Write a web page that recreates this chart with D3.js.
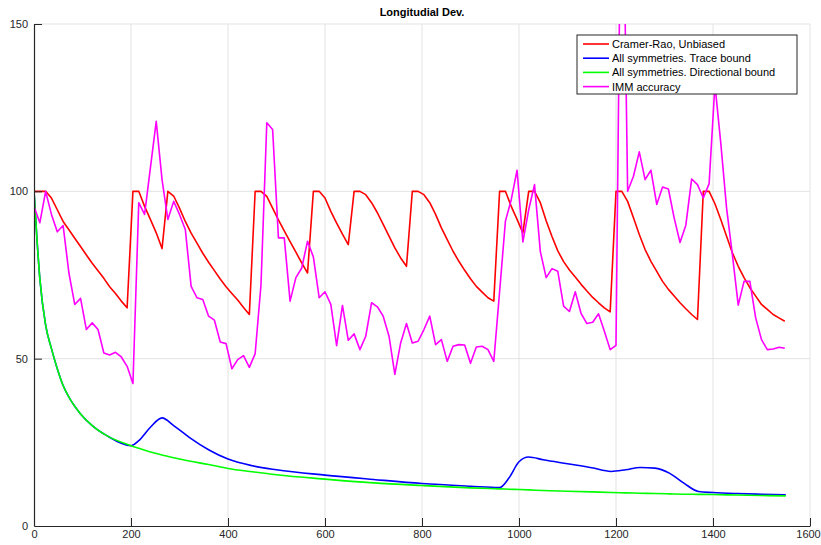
<!DOCTYPE html>
<html>
<head>
<meta charset="utf-8">
<script src="https://cdn.jsdelivr.net/npm/d3@7"></script>
<style>
  body { margin: 0; background: #fff; }
  text { font-family: "Liberation Sans", Arial, Helvetica, sans-serif; }
</style>
</head>
<body>
<div id="chart"></div>
<script>
// time grid of the tracker (one sample every 12 units)
var tStep = 12;

// Cramer-Rao, unbiased (one value per sample)
var crlb = [
  100, 100, 100, 98, 94.5, 91, 88.5, 86, 83.5, 81, 78.5, 76.3, 74, 71.5, 69.5, 67.2, 65.2,
  100, 100, 95.5, 91.6, 87.6, 82.9,
  100, 98.6, 95, 91, 87.5, 84.5, 81.5, 78.8, 76.3, 73.8, 71.5, 69.5, 67.5, 65.3, 63.2,
  100, 100, 98.5, 95, 91.5, 88.2, 85, 81.8, 78.6, 75.6,
  100, 100, 98, 94, 90.5, 87.2, 84.1,
  100, 100, 99, 96.6, 93.6, 90.1, 86.6, 83.1, 80.1, 77.6,
  100, 100, 99, 96.6, 93.1, 89.1, 85.6, 82.1, 79.1, 76.4, 73.9, 71.6, 69.9, 68.2, 67.2,
  100, 100, 95.5, 91.6, 87.6,
  100, 100, 96.6, 91.2, 86.5, 82.2, 79, 76.5, 74.4, 72.2, 70.2, 68.3, 66.7, 65.2, 64.0,
  100, 100, 97, 92.1, 87.1, 82.6, 79.1, 76.1, 73.1, 70.7, 68.7, 66.7, 64.9, 63.2, 61.7,
  100, 100, 96.3, 91.6, 86.6, 81.6, 77.6, 74.2, 71.2, 68.7, 66.2, 64.7, 63.2, 62.2, 61.2
];

// IMM accuracy (one value per sample)
var imm = [
  95.5, 90.6, 100, 93.1, 87.9, 89.8, 75.6, 66.2, 68.0, 58.7, 60.7, 58.7, 51.7, 51.1, 51.9, 50.5, 47.7, 42.6,
  96.6, 93.1, 107.0, 120.9, 103.5, 91.6, 97.0, 93.1, 88.6, 71.6, 68.2, 67.7, 62.7, 61.5, 55.0, 54.5, 47.0,
  49.7, 50.9, 47.4, 51.5, 72, 120.5, 118.5, 86.1, 86.1, 67.2, 74.2, 77.1, 85.1, 80.4, 68.2, 70.0, 66.2,
  53.9, 65.9, 55.5, 57.4, 52.7, 56.7, 66.7, 65.5, 62.7, 56.7, 45.3, 54.7, 60.5, 54.7, 55.2, 58.7, 62.7,
  54.2, 55.7, 49.2, 53.7, 54.2, 54.1, 48.6, 53.5, 53.7, 52.7, 49.2, 70, 91.1, 97.5, 106.3, 84.9, 94.5,
  102.0, 82, 74.2, 76.9, 76.1, 65.7, 64.1, 70.0, 63.5, 60.5, 60.9, 63.4, 58.2, 52.7, 54.0, 220, 100.0,
  104.5, 111.8, 103.5, 106.3, 96.1, 101.3, 100.7, 92, 84.7, 89.9, 103.7, 102, 98.0, 102.3, 131.9, 114.5,
  95, 81, 66.0, 73.1, 73.1, 62.2, 55.7, 52.7, 52.9, 53.4, 53.1
];

// symmetry bounds, read at these times
var boundT = [0, 6, 12, 24, 36, 48, 60, 72, 96, 120, 150, 200, 216, 240, 264, 288, 320, 360, 400, 450,
  500, 600, 700, 800, 900, 960, 980, 1000, 1020, 1050, 1100, 1150, 1190, 1220, 1250, 1280, 1310, 1340,
  1370, 1400, 1450, 1500, 1550];
var traceBound = [100, 86, 74, 60, 53, 47, 42, 38.5, 33.5, 30, 27, 24, 25.5, 29.5, 32.3, 30, 26.5, 22.8,
  20.0, 18.0, 16.8, 15.2, 13.9, 12.7, 11.9, 11.5, 14.5, 19.2, 20.6, 19.8, 18.6, 17.4, 16.3, 16.8, 17.5,
  17.3, 15.8, 12.8, 10.3, 10.0, 9.7, 9.5, 9.3];
var dirBound = [100, 86, 74, 60, 53, 47, 42, 38.5, 33.5, 30, 27, 24, 23.2, 22.1, 21.2, 20.4, 19.4, 18.4,
  17.2, 16.2, 15.3, 14.0, 12.9, 12.1, 11.4, 11.1, 11.0, 10.9, 10.8, 10.6, 10.4, 10.2, 10.0, 9.9, 9.8,
  9.7, 9.6, 9.5, 9.45, 9.4, 9.25, 9.1, 9.0];

var xTicks = [0, 200, 400, 600, 800, 1000, 1200, 1400, 1600];
var yTicks = [0, 50, 100, 150];
var legendNames = ["Cramer-Rao, Unbiased", "All symmetries. Trace bound",
  "All symmetries. Directional bound", "IMM accuracy"];
var colors = ["#ff0000", "#0000ff", "#00ff00", "#ff00ff"];

var W = 821, H = 545;
var margin = { top: 24, right: 11, bottom: 19, left: 34 },
    width = W - margin.left - margin.right,
    height = H - margin.top - margin.bottom;

var svg = d3.select("#chart").append("svg")
    .attr("width", W)
    .attr("height", H);

var g = svg.append("g")
    .attr("transform", "translate(" + margin.left + "," + margin.top + ")");

var x = d3.scaleLinear().domain([0, 1600]).range([0, width]);
var y = d3.scaleLinear().domain([0, 150]).range([height, 0]);

// grid
g.append("g")
    .selectAll("line.gx")
    .data(xTicks.slice(1))
    .enter().append("line")
    .attr("x1", d => x(d)).attr("x2", d => x(d))
    .attr("y1", 0).attr("y2", height)
    .attr("stroke", "#e3e3e3").attr("stroke-width", 1);
g.append("g")
    .selectAll("line.gy")
    .data(yTicks.slice(1))
    .enter().append("line")
    .attr("x1", 0).attr("x2", width)
    .attr("y1", d => y(d)).attr("y2", d => y(d))
    .attr("stroke", "#e3e3e3").attr("stroke-width", 1);

// clip for the lines
svg.append("defs").append("clipPath").attr("id", "plotclip")
    .append("rect").attr("x", 0).attr("y", 0).attr("width", width).attr("height", height);

var plot = g.append("g").attr("clip-path", "url(#plotclip)");

var sampleT = d3.range(crlb.length).map(i => i * tStep);

var lineStep = d3.line()
    .x((d, i) => x(sampleT[i]))
    .y(d => y(d));

var lineBound = d3.line()
    .x((d, i) => x(boundT[i]))
    .y(d => y(d))
    .curve(d3.curveMonotoneX);

plot.append("path").datum(crlb)
    .attr("d", lineStep).attr("fill", "none")
    .attr("stroke", colors[0]).attr("stroke-width", 1.6).attr("stroke-linejoin", "round");
plot.append("path").datum(traceBound)
    .attr("d", lineBound).attr("fill", "none")
    .attr("stroke", colors[1]).attr("stroke-width", 1.6);
plot.append("path").datum(dirBound)
    .attr("d", lineBound).attr("fill", "none")
    .attr("stroke", colors[2]).attr("stroke-width", 1.6);
plot.append("path").datum(imm)
    .attr("d", lineStep).attr("fill", "none")
    .attr("stroke", colors[3]).attr("stroke-width", 1.6).attr("stroke-linejoin", "round");

// axes
var xAxis = g.append("g")
    .attr("transform", "translate(0," + height + ")")
    .call(d3.axisBottom(x).tickValues(xTicks).tickFormat(d3.format("d"))
        .tickSizeInner(-8).tickSizeOuter(0).tickPadding(4));
var yAxis = g.append("g")
    .call(d3.axisLeft(y).tickValues(yTicks).tickFormat(d3.format("d"))
        .tickSizeInner(-8).tickSizeOuter(0).tickPadding(6));

[xAxis, yAxis].forEach(function (a) {
    a.select(".domain").attr("stroke", "#262626").attr("stroke-width", 1.2);
    a.selectAll(".tick line").attr("stroke", "#262626");
    a.selectAll(".tick text").attr("fill", "#262626").style("font-size", "11px")
        .style("font-family", "'Liberation Sans', Arial, sans-serif");
});
yAxis.selectAll(".tick").filter(d => d === 0).select("line").remove();
xAxis.selectAll(".tick").filter(d => d === 0).select("line").remove();
xAxis.selectAll(".tick").filter(d => d === 1600).select("text").attr("dx", -2);

// title
svg.append("text")
    .attr("x", margin.left + width / 2)
    .attr("y", 16)
    .attr("text-anchor", "middle")
    .style("font-size", "11px")
    .style("font-weight", "bold")
    .attr("fill", "#000")
    .text("Longitudial Dev.");

// legend
var legend = svg.append("g").attr("transform", "translate(577,35)");
legend.append("rect")
    .attr("width", 220).attr("height", 59)
    .attr("fill", "#fff").attr("stroke", "#262626").attr("stroke-width", 1);

var item = legend.selectAll(".item")
    .data(legendNames)
    .enter().append("g")
    .attr("transform", (d, i) => "translate(0," + (9 + i * 14.2) + ")");
item.append("line")
    .attr("x1", 6).attr("x2", 32)
    .attr("stroke", (d, i) => colors[i]).attr("stroke-width", 1.6);
item.append("text")
    .attr("x", 35).attr("y", 4)
    .style("font-size", "11px")
    .attr("fill", "#000")
    .text(d => d);
</script>
</body>
</html>
